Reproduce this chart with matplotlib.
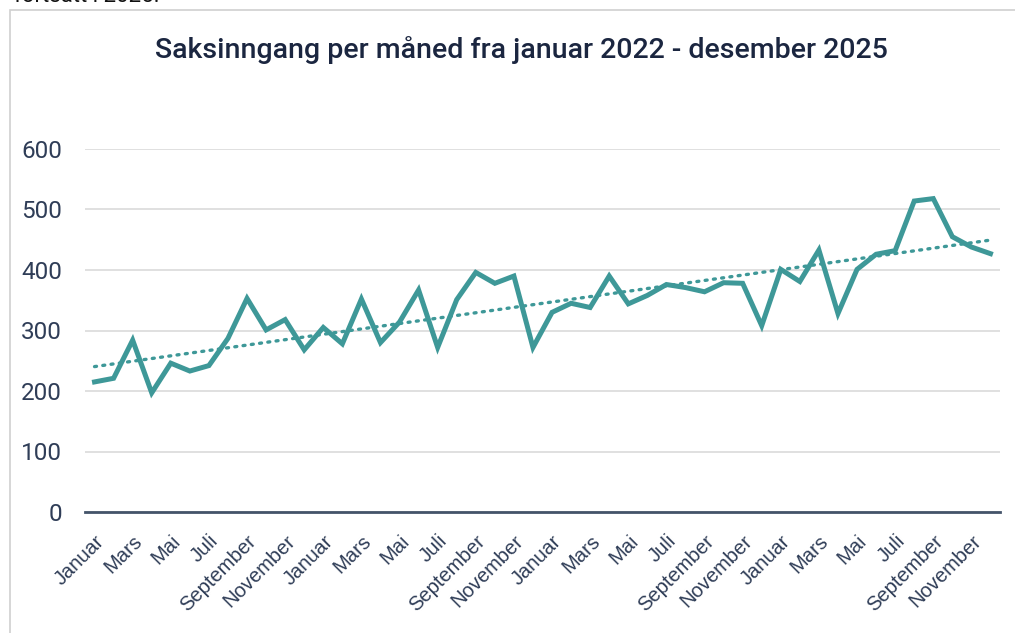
import numpy as np
import matplotlib
matplotlib.use("Agg")
import matplotlib.pyplot as plt
from matplotlib.patches import Rectangle

title = "Saksinngang per måned fra januar 2022 - desember 2025"
months = ["Januar", "Februar", "Mars", "April", "Mai", "Juni", "Juli", "August",
          "September", "Oktober", "November", "Desember"] * 4
values = [215, 221, 284, 197, 246, 233, 242, 287, 353, 301, 318, 268,
          305, 278, 352, 280, 314, 367, 272, 351, 396, 378, 390, 272,
          330, 345, 338, 390, 344, 358, 376, 371, 364, 379, 378, 308,
          401, 381, 433, 328, 401, 426, 432, 514, 518, 455, 438, 427]
yticks = [0, 100, 200, 300, 400, 500, 600]

W, H = 1015, 633
fig = plt.figure(figsize=(W / 100, H / 100), dpi=100)
fig.patch.set_facecolor("white")

# frame of the chart object
fig.patches.append(Rectangle((10 / W, -0.01), 1.02, 1 - 10 / H + 0.01, transform=fig.transFigure,
                             fill=False, edgecolor="#d0d0d0", linewidth=1.2))
fig.text(14 / W, 1 + 3 / H, "fortsatt i 2025.", fontsize=16, color="#111111",
         ha="left", va="center", family="Roboto")

ax = fig.add_axes([85 / W, 1 - 512 / H, 915 / W, 363 / H])
x = np.arange(len(values))
teal = "#3E9898"
ax.plot(x, values, color=teal, linewidth=3.6, solid_joinstyle="miter", zorder=3, clip_on=False)
coef = np.polyfit(x, values, 1)
ax.plot(x, np.polyval(coef, x), color=teal, linewidth=2.4, linestyle=(0, (0.6, 1.9)),
        dash_capstyle="round", zorder=2)

ax.set_xlim(-0.5, len(values) - 0.5)
ax.set_ylim(0, 600)
ax.set_yticks(yticks)
ax.set_yticklabels([str(v) for v in yticks], fontsize=17.5, color="#2f3d57", family="Roboto")
ax.set_xticks(x[::2])
ax.set_xticklabels(months[::2], rotation=45, ha="right", va="top", rotation_mode="anchor",
                   fontsize=14.5, color="#2f3d57", family="Liberation Sans")
ax.tick_params(axis="y", length=0, pad=16.5)
ax.tick_params(axis="x", length=0, pad=14)
ax.grid(axis="y", color="#dadada", linewidth=1.2)
ax.set_axisbelow(True)
for s in ["top", "right", "left"]:
    ax.spines[s].set_visible(False)
ax.spines["bottom"].set_color("#44546a")
ax.spines["bottom"].set_linewidth(2)
ax.spines["bottom"].set_zorder(4)

fig.text(521 / W, 1 - 50 / H, title, fontsize=20.5, color="#1b2640", ha="center", va="center",
         family="Roboto", fontweight="medium")

fig.savefig("out.png", dpi=100, facecolor="white")
